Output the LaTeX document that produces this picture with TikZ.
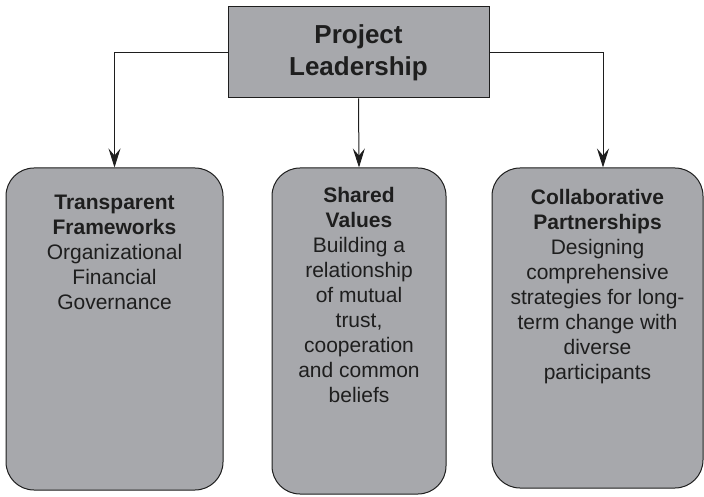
\documentclass[tikz,border=0pt]{standalone}
\usepackage{fontspec}
\setmainfont{Liberation Sans}
\usepackage{tikz}
\usetikzlibrary{arrows.meta}

\definecolor{boxgray}{RGB}{167,168,172}
\definecolor{inkgray}{RGB}{30,30,30}

\begin{document}
\begin{tikzpicture}[x=1pt, y=1pt,
    every node/.style={inner sep=0pt, text=inkgray},
    headbox/.style={rectangle, draw=inkgray, fill=boxgray, line width=1pt,
        minimum width=261pt, minimum height=91pt, align=center,
        font=\bfseries\fontsize{26}{32}\selectfont},
    areabox/.style={rectangle, rounded corners=28pt, draw=inkgray, fill=boxgray, line width=1pt},
    areatext/.style={anchor=north, align=center, font=\fontsize{21}{25}\selectfont},
    link/.style={draw=inkgray, line width=1pt, -{Stealth[length=19pt, width=12pt, inset=7pt]}}
    ]

    \useasboundingbox (0,0) rectangle (704,496);

    % Top box
    \node[headbox] (lead) at (358.5,443.5) {Project\\Leadership};

    % Three areas below
    \node[areabox, minimum width=217pt, minimum height=322pt] (trans) at (114.5,167) {};
    \node[areabox, minimum width=174pt, minimum height=326pt] (share) at (359,165) {};
    \node[areabox, minimum width=211pt, minimum height=320pt] (collab) at (597.5,168) {};

    \node[areatext] (transtxt) at ([yshift=-27pt]trans.north)
        {\textbf{Transparent}\\\textbf{Frameworks}\\Organizational\\Financial\\Governance};
    \node[areatext] (sharetxt) at ([yshift=-20pt]share.north)
        {\textbf{Shared}\\\textbf{Values}\\Building a\\relationship\\of mutual\\trust,\\cooperation\\and common\\beliefs};
    \node[areatext] (collabtxt) at ([yshift=-22pt]collab.north)
        {\textbf{Collaborative}\\\textbf{Partnerships}\\Designing\\comprehensive\\strategies for long-\\term change with\\diverse\\participants};

    % Connectors
    \draw[link] (lead.west) -| (trans.north);
    \draw[link] (lead.south) -- (share.north);
    \draw[link] (lead.east) -| ([xshift=5.5pt]collab.north);
\end{tikzpicture}
\end{document}
